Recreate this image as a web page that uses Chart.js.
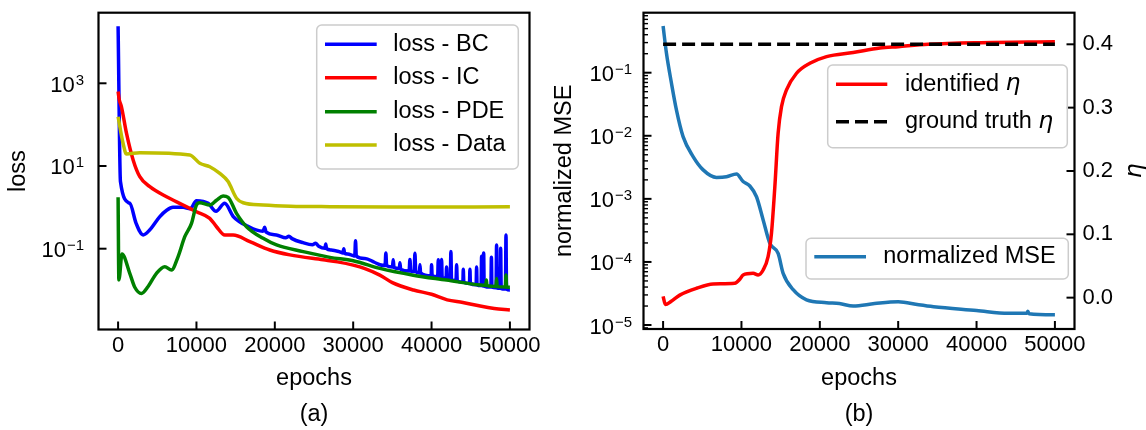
<!DOCTYPE html>
<html>
<head>
<meta charset="utf-8">
<title>Loss history and identified eta</title>
<script src="https://cdn.jsdelivr.net/npm/chart.js@4.4.0/dist/chart.umd.min.js"></script>
<style>
  html, body { margin: 0; padding: 0; background: #fff; overflow: hidden; }
  .panel { position: absolute; top: 0; height: 430px; }
  #panelA { left: 0; width: 540px; }
  #panelB { left: 540px; width: 606px; }
</style>
</head>
<body>
<div class="panel" id="panelA"><canvas id="lossChart"></canvas></div>
<div class="panel" id="panelB"><canvas id="etaChart"></canvas></div>
<script>
// --- Tick values ---
const epochTicks = [0, 10000, 20000, 30000, 40000, 50000];
const lossTickExps = [-1, 1, 3];
const mseTickExps = [-5, -4, -3, -2, -1];
const etaTicks = [0, 0.1, 0.2, 0.3, 0.4];

// --- (a) loss histories ---
const bcEpochs = [0, 300, 1500, 2300, 3200, 4000, 5300, 6200, 7000, 8300, 9200, 10000, 11500, 12500, 13600, 14700,
  15500, 16500, 17600, 18500, 18700, 18900, 20200, 21400, 21800, 22200, 23600, 24800, 25200, 25600, 26400, 26500,
  26600, 27200, 28200, 28700, 28800, 28900, 29300, 30000, 30200, 30300, 30400, 31500, 32700, 33400,
  34070, 34170, 34270, 35010, 35110, 35210, 35900, 35960, 36060, 37140, 37240, 37340, 37780, 37880, 37980,
  38450, 38520, 38600, 39950, 40000, 40080, 40780, 40860, 40940, 41200, 41280, 41360, 41850, 41920, 42000,
  42390, 42470, 42550, 43120, 43200, 43280, 44000, 44050, 44120, 44840, 44900, 44960, 45690, 45750, 45810,
  46320, 46390, 46460, 46580, 46650, 46720, 47570, 47640, 47710, 48230, 48300, 48370, 48750, 48820, 48890,
  49430, 49500, 49570, 50000];
const bcLoss = [24000, 4.2, 1.25, 0.41, 0.215, 0.28, 0.59, 0.85, 1.0, 1.0, 0.92, 1.45, 1.25, 0.8, 1.25, 0.6,
  0.45, 0.355, 0.285, 0.265, 0.33, 0.25, 0.215, 0.185, 0.2, 0.175, 0.14, 0.125, 0.135, 0.115, 0.102, 0.13,
  0.1, 0.093, 0.085, 0.079, 0.1, 0.078, 0.074, 0.068, 0.067, 0.155, 0.066, 0.058, 0.047, 0.041,
  0.039, 0.079, 0.039, 0.036, 0.054, 0.035, 0.033, 0.046, 0.032, 0.029, 0.055, 0.029, 0.028, 0.078, 0.028,
  0.026, 0.041, 0.026, 0.022, 0.041, 0.022, 0.021, 0.054, 0.0205, 0.0198, 0.055, 0.0196, 0.019, 0.036, 0.0185,
  0.0182, 0.085, 0.018, 0.0168, 0.041, 0.0166, 0.0156, 0.032, 0.0155, 0.0145, 0.032, 0.0143, 0.0135, 0.036, 0.0133,
  0.0128, 0.066, 0.0127, 0.0126, 0.079, 0.0125, 0.0118, 0.062, 0.0117, 0.0113, 0.123, 0.0112, 0.011, 0.102, 0.0109,
  0.0106, 0.214, 0.0105, 0.01];

const icEpochs = [0, 150, 430, 1070, 1920, 2770, 4050, 6180, 8300, 10000, 11700, 12560, 13620, 14680, 16810, 19360,
  21920, 26170, 28000, 30000, 31500, 33400, 35000, 37700, 40000, 42000, 44000, 46200, 48000, 50000];
const icLoss = [630, 400, 270, 62, 14, 5.5, 3.16, 1.8, 1.14, 0.785, 0.543, 0.34, 0.214, 0.214, 0.148, 0.093,
  0.071, 0.054, 0.048, 0.04, 0.033, 0.023, 0.0151, 0.01, 0.0079, 0.0058, 0.005, 0.0041, 0.0036, 0.0033];

const pdeEpochs = [0, 100, 500, 1490, 2130, 2980, 3830, 4900, 5960, 6820, 7660, 8510, 9370, 10000, 10430, 11700,
  12560, 13400, 14040, 15110, 16390, 18510, 20220, 23620, 27030, 30000, 33410, 37670, 41920, 46180, 46930, 47000,
  47070, 48230, 48300, 48370, 49430, 49500, 49570, 50000];
const pdeLoss = [1.75, 0.0175, 0.0745, 0.0254, 0.0117, 0.0083, 0.0122, 0.0254, 0.0367, 0.0305, 0.0646, 0.195, 0.411, 1.14, 1.29, 1.14,
  1.48, 1.88, 1.75, 0.718, 0.341, 0.178, 0.123, 0.085, 0.0617, 0.0513, 0.0335, 0.0229, 0.0174, 0.0132, 0.0129, 0.0174,
  0.0128, 0.0122, 0.019, 0.0121, 0.0118, 0.0231, 0.0118, 0.0117];

const dataEpochs = [0, 640, 1070, 2770, 9150, 10430, 11700, 12980, 14040, 15110, 15960, 18510, 22000, 27030, 35000, 50000];
const dataLoss = [155, 35, 19.5, 21, 18.5, 11.6, 9.6, 6.6, 4.2, 1.66, 1.29, 1.14, 1.07, 1.04, 1.02, 1.03];

// --- (b) normalized MSE and eta ---
const mseEpochs = [0, 430, 1070, 1700, 2550, 3830, 5110, 6810, 8090, 9370, 10210, 11070, 11920, 12770, 13620, 14680,
  15320, 16600, 18300, 20860, 22500, 24260, 27000, 30000, 32620, 34520, 40000, 44050, 46430, 46550, 46700, 50000];
const mseValues = [0.55, 0.203, 0.0679, 0.0257, 0.00968, 0.00468, 0.00288, 0.00219, 0.00224, 0.00248, 0.00188, 0.0016,
  0.00108, 4.63e-4, 1.98e-4, 1.37e-4, 6.6e-5, 3.63e-5, 2.51e-5, 2.26e-5, 2.19e-5, 2.0e-5, 2.19e-5, 2.34e-5,
  2.09e-5, 1.95e-5, 1.70e-5, 1.53e-5, 1.53e-5, 1.66e-5, 1.51e-5, 1.45e-5];

const etaEpochs = [0, 300, 1000, 2130, 4260, 6380, 9150, 9790, 10210, 11490, 12130, 12770, 13400, 13830, 14260, 14680,
  15110, 15750, 17030, 18730, 20860, 24260, 27660, 30000, 33810, 40000, 50000];
const etaValues = [0.002, -0.011, -0.006, 0.004, 0.0148, 0.0216, 0.0227, 0.029, 0.0358, 0.0385, 0.0358, 0.0437, 0.0647, 0.1017, 0.175, 0.2596,
  0.3016, 0.328, 0.3543, 0.37, 0.3806, 0.387, 0.394, 0.3963, 0.4, 0.4026, 0.4042];

const truthEpochs = [0, 50000];
const truthValues = [0.4, 0.4];

// --- Styling ---
const SANS = '"Liberation Sans", Arial, Helvetica, sans-serif';
const TICK_SIZE = 22;
const LABEL_SIZE = 23.5;
const LEGEND_SIZE = 23.5;
const SUP_SIZE = 15;
const LINE_W = 3.5;

const toPoints = (xs, ys) => xs.map((x, i) => ({ x: x, y: ys[i] }));

function strokeLine(ctx, x1, y1, x2, y2) {
    ctx.beginPath();
    ctx.moveTo(x1, y1);
    ctx.lineTo(x2, y2);
    ctx.stroke();
}

function roundBox(ctx, x, y, w, h, r) {
    ctx.beginPath();
    ctx.moveTo(x + r, y);
    ctx.lineTo(x + w - r, y);
    ctx.arcTo(x + w, y, x + w, y + r, r);
    ctx.lineTo(x + w, y + h - r);
    ctx.arcTo(x + w, y + h, x + w - r, y + h, r);
    ctx.lineTo(x + r, y + h);
    ctx.arcTo(x, y + h, x, y + h - r, r);
    ctx.lineTo(x, y + r);
    ctx.arcTo(x, y, x + r, y, r);
    ctx.closePath();
}

/**
 * Draws a matplotlib-style legend box with line handles.
 */
function drawLegend(ctx, box) {
    ctx.save();
    roundBox(ctx, box.x, box.y, box.w, box.h, 5);
    ctx.fillStyle = 'rgba(255,255,255,0.8)';
    ctx.fill();
    ctx.strokeStyle = '#cccccc';
    ctx.lineWidth = 1.5;
    ctx.stroke();

    box.rows.forEach(row => {
        ctx.strokeStyle = row.color;
        ctx.lineWidth = LINE_W;
        ctx.setLineDash(row.dash || []);
        strokeLine(ctx, box.handleX0, row.y, box.handleX1, row.y);
        ctx.setLineDash([]);

        ctx.fillStyle = '#000';
        ctx.textBaseline = 'middle';
        ctx.textAlign = 'left';
        ctx.font = LEGEND_SIZE + 'px ' + SANS;
        ctx.fillText(row.text, box.textX, row.y);
        if (row.eta) {
            const w = ctx.measureText(row.text).width;
            ctx.font = 'italic ' + LEGEND_SIZE + 'px "DejaVu Sans", sans-serif';
            ctx.fillText('\u03b7', box.textX + w, row.y);
        }
    });
    ctx.restore();
}

/**
 * Log-axis labels written as 10 with a raised exponent.
 */
function drawLogLabels(ctx, scale, exps, rightX) {
    ctx.save();
    ctx.fillStyle = '#000';
    ctx.textAlign = 'left';
    ctx.textBaseline = 'alphabetic';
    exps.forEach(e => {
        const py = scale.getPixelForValue(Math.pow(10, e));
        const expText = e < 0 ? '\u2212' + (-e) : String(e);
        ctx.font = SUP_SIZE + 'px ' + SANS;
        const ew = ctx.measureText(expText).width;
        ctx.font = TICK_SIZE + 'px ' + SANS;
        const bw = ctx.measureText('10').width;
        const x0 = rightX - ew - bw - 1;
        ctx.fillText('10', x0, py + 8.5);
        ctx.font = SUP_SIZE + 'px ' + SANS;
        ctx.fillText(expText, x0 + bw + 1, py + 1.5);
    });
    ctx.restore();
}

/**
 * Frame, inward tick marks, log labels and legends for one panel.
 */
function makeAxesPlugin(cfg) {
    return {
        id: 'mplAxes',
        afterDraw(chart) {
            const ctx = chart.ctx;
            const a = chart.chartArea;
            const x = chart.scales.x;
            const y = chart.scales.y;

            ctx.save();
            ctx.strokeStyle = '#000';
            ctx.lineCap = 'butt';

            // bottom ticks
            ctx.lineWidth = 2;
            epochTicks.forEach(v => {
                const px = x.getPixelForValue(v);
                strokeLine(ctx, px, a.bottom, px, a.bottom - 8);
            });

            // left log ticks
            cfg.logExps.forEach(e => {
                const py = y.getPixelForValue(Math.pow(10, e));
                strokeLine(ctx, a.left, py, a.left + 8, py);
            });
            if (cfg.minorTicks) {
                ctx.lineWidth = 1.4;
                for (let e = -7; e <= 1; e++) {
                    for (let k = 2; k <= 9; k++) {
                        const v = k * Math.pow(10, e);
                        if (v < y.min || v > y.max) continue;
                        const py = y.getPixelForValue(v);
                        strokeLine(ctx, a.left, py, a.left + 4.5, py);
                    }
                }
            }

            // right linear ticks
            if (cfg.rightAxis) {
                const y2 = chart.scales[cfg.rightAxis];
                ctx.lineWidth = 2;
                etaTicks.forEach(v => {
                    const py = y2.getPixelForValue(v);
                    strokeLine(ctx, a.right, py, a.right - 8, py);
                });
            }

            // frame
            ctx.lineWidth = 2.2;
            ctx.strokeRect(a.left, a.top, a.right - a.left, a.bottom - a.top);
            ctx.restore();

            drawLogLabels(ctx, y, cfg.logExps, cfg.logLabelRight);

            if (cfg.etaLabelX) {
                ctx.save();
                ctx.fillStyle = '#000';
                ctx.font = 'italic ' + LABEL_SIZE + 'px "DejaVu Sans", sans-serif';
                ctx.textAlign = 'center';
                ctx.textBaseline = 'middle';
                ctx.translate(cfg.etaLabelX, (a.top + a.bottom) / 2);
                ctx.rotate(-Math.PI / 2);
                ctx.fillText('\u03b7', 0, 0);
                ctx.restore();
            }

            cfg.legends.forEach(box => drawLegend(ctx, box));
        }
    };
}

function xAxis(caption, height) {
    return {
        type: 'linear',
        min: -2500,
        max: 52500,
        grid: { display: false, drawTicks: false },
        border: { display: false },
        afterBuildTicks: s => { s.ticks = epochTicks.map(v => ({ value: v })); },
        ticks: {
            color: '#000',
            font: { family: SANS, size: TICK_SIZE },
            padding: 3,
            maxRotation: 0,
            autoSkip: false,
            callback: v => String(v)
        },
        title: {
            display: true,
            text: ['epochs', caption],
            color: '#000',
            font: { family: SANS, size: LABEL_SIZE, lineHeight: 36.6 / LABEL_SIZE },
            padding: { top: 0, bottom: -3.3 }
        },
        afterFit: s => { s.height = height; s.paddingLeft = 0; s.paddingRight = 0; }
    };
}

function logAxis(title, lo, hi, width, titlePad) {
    return {
        type: 'logarithmic',
        position: 'left',
        min: lo,
        max: hi,
        grid: { display: false, drawTicks: false },
        border: { display: false },
        ticks: { display: false },
        title: {
            display: true,
            text: title,
            color: '#000',
            font: { family: SANS, size: LABEL_SIZE },
            padding: { top: titlePad, bottom: 0 }
        },
        afterFit: s => { s.width = width; s.paddingTop = 0; s.paddingBottom = 0; }
    };
}

const lineStyle = { pointRadius: 0, borderWidth: LINE_W, cubicInterpolationMode: 'monotone', fill: false };

// --- Panel (a) ---
new Chart(document.getElementById('lossChart'), {
    type: 'line',
    data: {
        datasets: [
            { label: 'loss - BC', data: toPoints(bcEpochs, bcLoss), borderColor: '#0000ff', order: 4, ...lineStyle },
            { label: 'loss - IC', data: toPoints(icEpochs, icLoss), borderColor: '#ff0000', order: 3, ...lineStyle },
            { label: 'loss - PDE', data: toPoints(pdeEpochs, pdeLoss), borderColor: '#008000', order: 2, ...lineStyle },
            { label: 'loss - Data', data: toPoints(dataEpochs, dataLoss), borderColor: '#bfbf00', order: 1, ...lineStyle }
        ]
    },
    options: {
        responsive: true,
        maintainAspectRatio: false,
        animation: false,
        devicePixelRatio: 1,
        layout: { padding: { top: 12.7, right: 10.5, bottom: 0, left: 0 } },
        plugins: { legend: { display: false }, tooltip: { enabled: false } },
        scales: {
            x: xAxis('(a)', 100.5),
            y: logAxis('loss', Math.pow(10, -2.954), Math.pow(10, 4.707), 98.5, 4)
        }
    },
    plugins: [makeAxesPlugin({
        logExps: lossTickExps,
        logLabelRight: 84,
        minorTicks: false,
        legends: [{
            x: 316.7, y: 25, w: 201.6, h: 144,
            handleX0: 325, handleX1: 376.7, textX: 393.3,
            rows: [
                { y: 44.3, color: '#0000ff', text: 'loss - BC' },
                { y: 77.7, color: '#ff0000', text: 'loss - IC' },
                { y: 111.7, color: '#008000', text: 'loss - PDE' },
                { y: 145, color: '#bfbf00', text: 'loss - Data' }
            ]
        }]
    })]
});

// --- Panel (b) ---
new Chart(document.getElementById('etaChart'), {
    type: 'line',
    data: {
        datasets: [
            { label: 'normalized MSE', data: toPoints(mseEpochs, mseValues), borderColor: '#1f77b4', yAxisID: 'y', order: 3, ...lineStyle },
            { label: 'identified \u03b7', data: toPoints(etaEpochs, etaValues), borderColor: '#ff0000', yAxisID: 'y2', order: 2, ...lineStyle },
            { label: 'ground truth \u03b7', data: toPoints(truthEpochs, truthValues), borderColor: '#000000', borderDash: [13, 6],
              yAxisID: 'y2', order: 1, ...lineStyle }
        ]
    },
    options: {
        responsive: true,
        maintainAspectRatio: false,
        animation: false,
        devicePixelRatio: 1,
        layout: { padding: { top: 12.7, right: 0, bottom: 0, left: 0 } },
        plugins: { legend: { display: false }, tooltip: { enabled: false } },
        scales: {
            x: xAxis('(b)', 101),
            y: logAxis('normalized MSE', Math.pow(10, -5.063), Math.pow(10, -0.049), 103.5, 10.5),
            y2: {
                type: 'linear',
                position: 'right',
                min: -0.0495,
                max: 0.4499,
                grid: { display: false, drawTicks: false },
                border: { display: false },
                afterBuildTicks: s => { s.ticks = etaTicks.map(v => ({ value: v })); },
                ticks: {
                    color: '#000',
                    font: { family: SANS, size: TICK_SIZE },
                    padding: 8,
                    callback: v => v.toFixed(1)
                },
                afterFit: s => { s.width = 71.5; s.paddingTop = 0; s.paddingBottom = 0; }
            }
        }
    },
    plugins: [makeAxesPlugin({
        logExps: mseTickExps,
        logLabelRight: 92,
        minorTicks: true,
        rightAxis: 'y2',
        etaLabelX: 595,
        legends: [
            {
                x: 287.7, y: 65, w: 239.6, h: 82.7,
                handleX0: 296, handleX1: 347.3, textX: 365,
                rows: [
                    { y: 84.3, color: '#ff0000', text: 'identified ', eta: true },
                    { y: 121.7, color: '#000000', dash: [13, 6], text: 'ground truth ', eta: true }
                ]
            },
            {
                x: 266, y: 238.3, w: 262.3, h: 40.7,
                handleX0: 274.3, handleX1: 326, textX: 343.3,
                rows: [
                    { y: 256.7, color: '#1f77b4', text: 'normalized MSE' }
                ]
            }
        ]
    })]
});
</script>
</body>
</html>
